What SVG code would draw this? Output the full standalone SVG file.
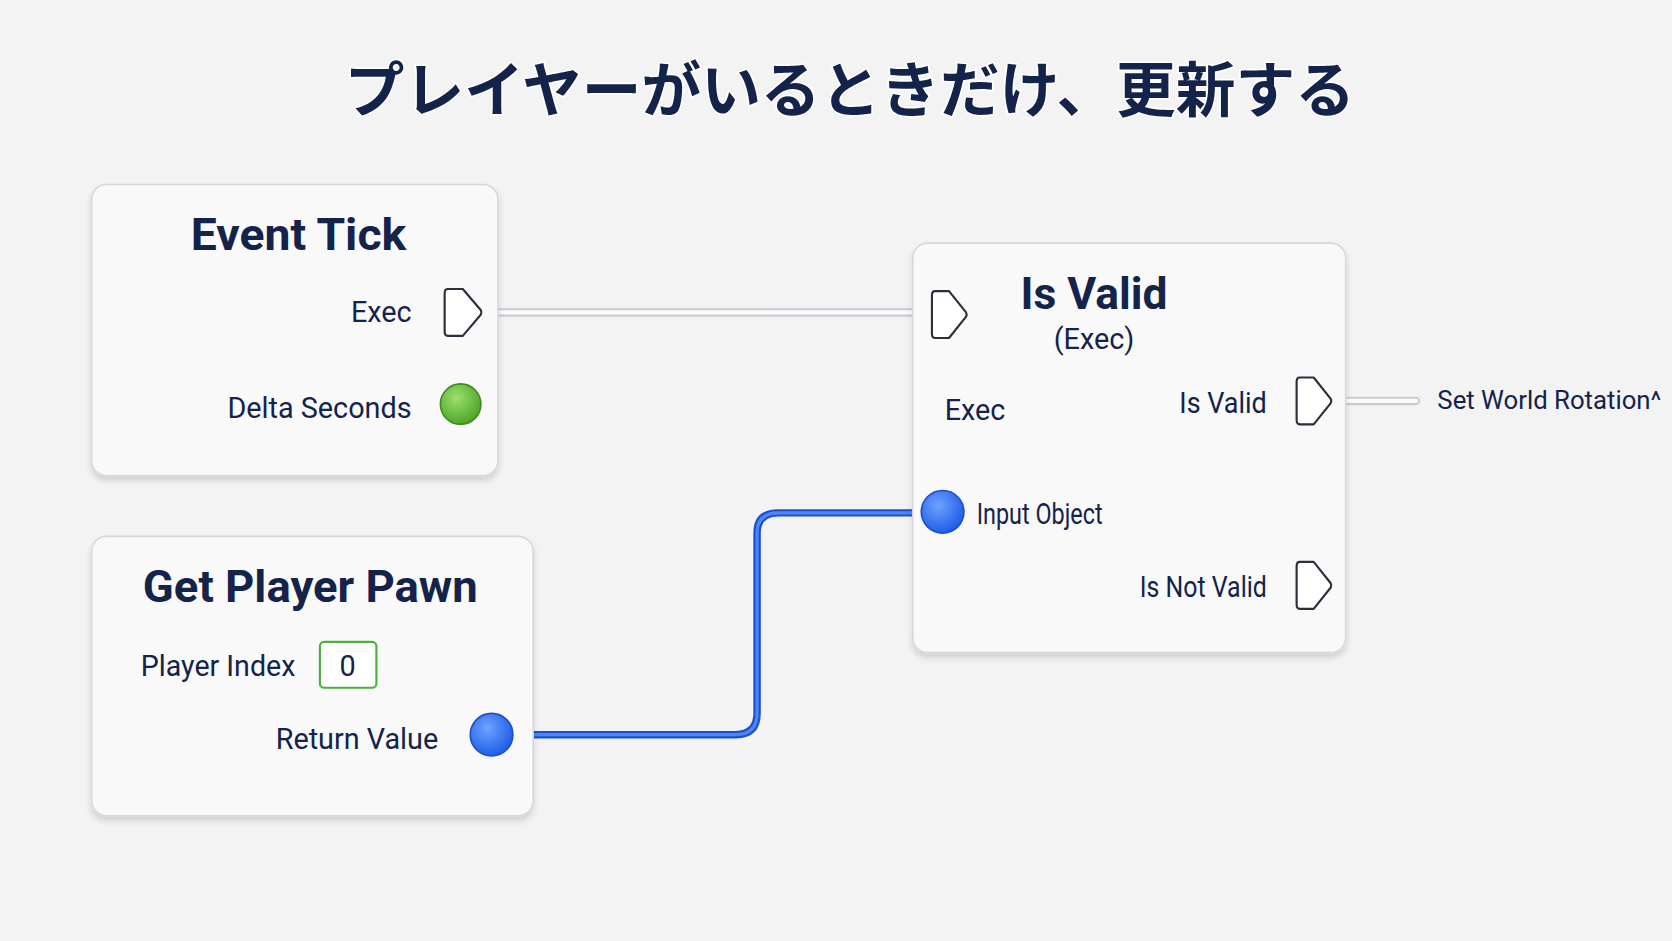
<svg xmlns="http://www.w3.org/2000/svg" width="1672" height="941" viewBox="0 0 1672 941">
<style>
.node{fill:#f9f9fa;stroke:#d6d8dc;stroke-width:1.5;filter:url(#sh)}
.t{font-family:Roboto,"Noto Sans",sans-serif;fill:#14234a}
.h{font-size:42px;font-weight:bold;text-anchor:middle}
.l{font-size:27px}
.r{text-anchor:end}
.exec{fill:#fff;stroke:#2a2f3a;stroke-width:2;stroke-linejoin:round}
.wire{fill:none;stroke:#c9ccd1;stroke-width:8;stroke-linecap:round}
.wire2{fill:none;stroke:#fbfbfb;stroke-width:4;stroke-linecap:round}
</style>
<defs>
<filter id="sh" x="-10%" y="-10%" width="120%" height="125%"><feDropShadow dx="0" dy="4" stdDeviation="3" flood-color="#000" flood-opacity="0.15"/></filter>
<radialGradient id="gg" cx="40%" cy="35%" r="65%"><stop offset="0" stop-color="#9be06a"/><stop offset="1" stop-color="#4fa62a"/></radialGradient>
<radialGradient id="bg" cx="40%" cy="35%" r="65%"><stop offset="0" stop-color="#6fa2ff"/><stop offset="1" stop-color="#1f5ee8"/></radialGradient>
</defs>
<rect width="1672" height="941" fill="#f3f3f4"/>
<g transform="scale(1.0663)">
<text x="797" y="105" text-anchor="middle" font-family="'Noto Sans CJK JP',sans-serif" font-size="56" font-weight="bold" fill="#14234a" stroke="#fff" stroke-width="3" paint-order="stroke">プレイヤーがいるときだけ、更新する</text>
<g id="connectors">
<path class="wire" d="M468 293H856"/><path class="wire2" d="M468 293H856"/>
<path class="wire" d="M1262 376H1328"/><path class="wire2" d="M1262 376H1328"/>
<path d="M480 689H690Q710 689 710 669V500Q710 481 730 481H866" fill="none" stroke="#1c4fd0" stroke-width="7"/>
<path d="M480 689H690Q710 689 710 669V500Q710 481 730 481H866" fill="none" stroke="#4d86f5" stroke-width="3"/>
</g>
<g id="event-tick">
<rect class="node" x="86" y="173" width="381" height="273" rx="14"/>
<text class="t h" x="280" y="234" textLength="202" lengthAdjust="spacingAndGlyphs">Event Tick</text>
<text class="t l r" x="386" y="302">Exec</text>
<path class="exec" d="M420 271Q417 271 417 275L417 311Q417 315 420 315L434 315L451 295Q452 293 451 291L434 271Z"/>
<text class="t l r" x="386" y="392">Delta Seconds</text>
<circle cx="432" cy="379" r="19" fill="url(#gg)" stroke="#3f8a22" stroke-width="1.5"/>
</g>
<g id="get-player-pawn">
<rect class="node" x="86" y="503" width="414" height="262" rx="14"/>
<text class="t h" x="291" y="565" textLength="314" lengthAdjust="spacingAndGlyphs">Get Player Pawn</text>
<text class="t l" x="132" y="634" textLength="145" lengthAdjust="spacingAndGlyphs">Player Index</text>
<rect x="300" y="602" width="53" height="43" rx="4" fill="#fff" stroke="#4caf3a" stroke-width="2"/>
<text class="t l" x="326" y="634" text-anchor="middle">0</text>
<text class="t l r" x="411" y="702">Return Value</text>
<circle cx="461" cy="689" r="20" fill="url(#bg)" stroke="#1d4fc6" stroke-width="1.5"/>
</g>
<g id="is-valid">
<rect class="node" x="856" y="228" width="406" height="384" rx="14"/>
<text class="t h" x="1026" y="290" textLength="138" lengthAdjust="spacingAndGlyphs">Is Valid</text>
<text class="t l" x="1026" y="327" text-anchor="middle">(Exec)</text>
<path class="exec" d="M877 273Q874 273 874 277L874 313Q874 317 877 317L890 317L906 297Q907 295 906 293L890 273Z"/>
<text class="t l" x="886" y="394">Exec</text>
<text class="t l r" x="1188" y="387" textLength="82" lengthAdjust="spacingAndGlyphs">Is Valid</text>
<path class="exec" d="M1219 354Q1216 354 1216 358L1216 394Q1216 398 1219 398L1232 398L1248 378Q1249 376 1248 374L1232 354Z"/>
<circle cx="884" cy="480" r="20" fill="url(#bg)" stroke="#1d4fc6" stroke-width="1.5"/>
<text class="t l" x="916" y="491" textLength="118" lengthAdjust="spacingAndGlyphs">Input Object</text>
<text class="t l r" x="1188" y="560" textLength="119" lengthAdjust="spacingAndGlyphs">Is Not Valid</text>
<path class="exec" d="M1219 527Q1216 527 1216 531L1216 567Q1216 571 1219 571L1232 571L1248 551Q1249 549 1248 547L1232 527Z"/>
</g>
<text class="t" x="1348" y="384" font-size="25" textLength="210" lengthAdjust="spacingAndGlyphs">Set World Rotation^</text>
</g>
</svg>
